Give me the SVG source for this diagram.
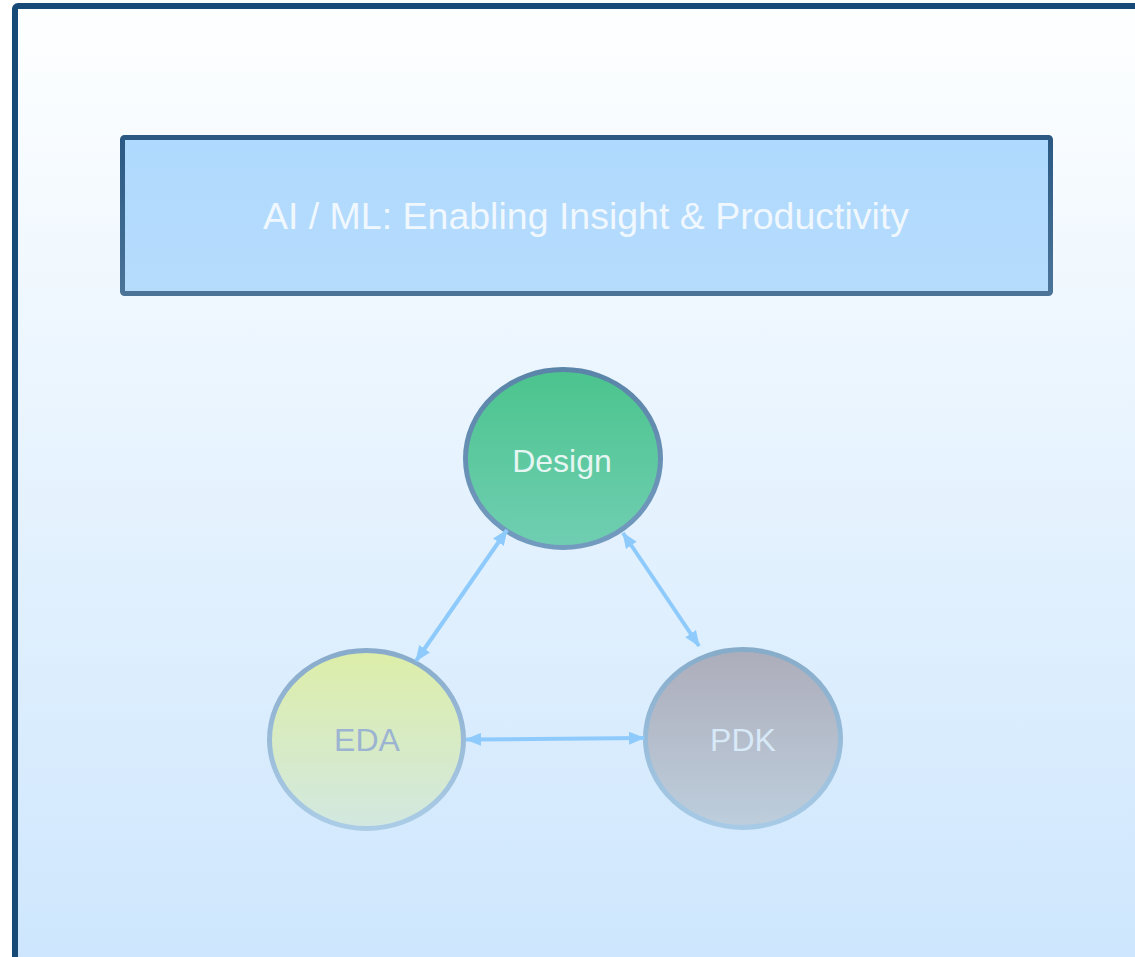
<svg xmlns="http://www.w3.org/2000/svg" width="1135" height="957" viewBox="0 0 1135 957">
  <defs>
    <linearGradient id="bg" x1="0" y1="0" x2="0" y2="1">
      <stop offset="0" stop-color="#feffff"/>
      <stop offset="1" stop-color="#cde6fd"/>
    </linearGradient>
    <linearGradient id="titleFill" x1="0" y1="0" x2="0" y2="1">
      <stop offset="0" stop-color="#afd9fe"/>
      <stop offset="1" stop-color="#b6dcfc"/>
    </linearGradient>
    <linearGradient id="titleStroke" x1="0" y1="0" x2="0" y2="1">
      <stop offset="0" stop-color="#2b5983"/>
      <stop offset="1" stop-color="#4b7498"/>
    </linearGradient>
    <linearGradient id="designFill" x1="0" y1="0" x2="0" y2="1">
      <stop offset="0" stop-color="#4bc48d"/>
      <stop offset="1" stop-color="#70ceb2"/>
    </linearGradient>
    <linearGradient id="designStroke" x1="0" y1="0" x2="0" y2="1">
      <stop offset="0" stop-color="#5b84a9"/>
      <stop offset="1" stop-color="#739bbf"/>
    </linearGradient>
    <linearGradient id="edaFill" x1="0" y1="0" x2="0" y2="1">
      <stop offset="0" stop-color="#ddeea8"/>
      <stop offset="1" stop-color="#d2e8e0"/>
    </linearGradient>
    <linearGradient id="edaStroke" x1="0" y1="0" x2="0" y2="1">
      <stop offset="0" stop-color="#89abcb"/>
      <stop offset="1" stop-color="#abcce6"/>
    </linearGradient>
    <linearGradient id="pdkFill" x1="0" y1="0" x2="0" y2="1">
      <stop offset="0" stop-color="#adadba"/>
      <stop offset="1" stop-color="#bdcedd"/>
    </linearGradient>
    <linearGradient id="pdkStroke" x1="0" y1="0" x2="0" y2="1">
      <stop offset="0" stop-color="#87acca"/>
      <stop offset="1" stop-color="#a7cbe7"/>
    </linearGradient>
    <marker id="arr" viewBox="0 0 16 13" refX="15" refY="6.5" markerWidth="16" markerHeight="13" markerUnits="userSpaceOnUse" orient="auto-start-reverse">
      <path d="M0,0 L16,6.5 L0,13 Z" fill="#8ecbfc"/>
    </marker>
    <style>
      .lbl { font-family: "Liberation Sans", Arial, Helvetica, sans-serif; text-anchor: middle; }
      .conn { stroke: #8ecbfc; stroke-width: 4; fill: none; marker-start: url(#arr); marker-end: url(#arr); }
    </style>
  </defs>

  <rect x="0" y="0" width="1135" height="957" fill="#ffffff"/>
  <g id="frame">
    <rect x="15" y="6" width="1140" height="970" rx="3" fill="url(#bg)" stroke="#174a76" stroke-width="6"/>
  </g>

  <g id="title">
    <rect x="122.5" y="137.5" width="928" height="156" rx="2" fill="url(#titleFill)" stroke="url(#titleStroke)" stroke-width="5"/>
    <text class="lbl" x="586" y="229" font-size="37.5" fill="#ffffff" fill-opacity="0.82">AI / ML: Enabling Insight &amp; Productivity</text>
  </g>

  <g id="node-design">
    <ellipse cx="563" cy="458.5" rx="97.5" ry="89" fill="url(#designFill)" stroke="url(#designStroke)" stroke-width="5"/>
    <text class="lbl" x="562" y="472" font-size="32" fill="#e6f6f2">Design</text>
  </g>

  <g id="node-eda">
    <ellipse cx="366.5" cy="739.5" rx="97" ry="89" fill="url(#edaFill)" stroke="url(#edaStroke)" stroke-width="5"/>
    <text class="lbl" x="367" y="751" font-size="32" fill="#9cb4d1">EDA</text>
  </g>

  <g id="node-pdk">
    <ellipse cx="743" cy="738.5" rx="97.5" ry="89" fill="url(#pdkFill)" stroke="url(#pdkStroke)" stroke-width="5"/>
    <text class="lbl" x="743" y="751" font-size="32" fill="#d8e9f8">PDK</text>
  </g>

  <g id="connectors">
    <line class="conn" x1="507" y1="530" x2="416" y2="661"/>
    <line class="conn" x1="623" y1="533" x2="699" y2="646"/>
    <line class="conn" x1="466" y1="739.5" x2="644" y2="738"/>
  </g>
</svg>
